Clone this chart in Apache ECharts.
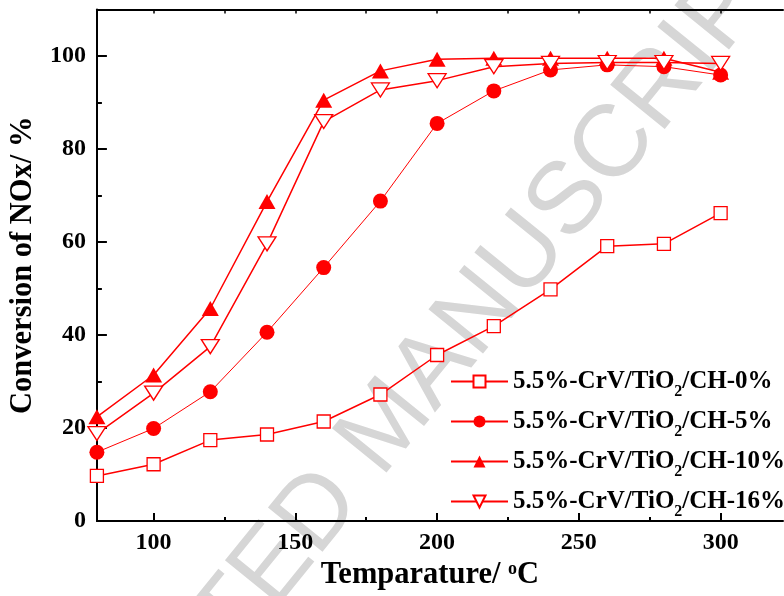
<!DOCTYPE html>
<html>
<head>
<meta charset="utf-8">
<script src="https://cdn.jsdelivr.net/npm/echarts@6/dist/echarts.min.js"></script>
<style>
html,body{margin:0;padding:0;background:#fff;}
#chart{width:784px;height:596px;}
</style>
</head>
<body>
<div id="chart"></div>
<script>
// ---- data ----
var temperatures = [80, 100, 120, 140, 160, 180, 200, 220, 240, 260, 280, 300];
var ch0  = [9.7, 12.2, 17.4, 18.6, 21.4, 27.2, 35.7, 41.9, 49.8, 59.1, 59.6, 66.2];
var ch5  = [14.8, 19.9, 27.8, 40.6, 54.5, 68.8, 85.5, 92.5, 97.0, 98.1, 97.7, 95.9];
var ch10 = [22.4, 31.4, 45.7, 68.7, 90.5, 96.8, 99.3, 99.5, 99.5, 99.5, 99.5, 96.5];
var ch16 = [18.8, 27.5, 37.5, 59.6, 85.9, 92.7, 94.7, 97.7, 98.4, 98.6, 98.6, 98.4];
var seriesNames = ['5.5%-CrV/TiO2/CH-0%', '5.5%-CrV/TiO2/CH-5%', '5.5%-CrV/TiO2/CH-10%', '5.5%-CrV/TiO2/CH-16%'];
var xMajorTicks = [100, 150, 200, 250, 300];
var xMinorTicks = [125, 175, 225, 275];
var xTopTicks = [100, 125, 150, 175, 200, 225, 250, 275, 300];
var yMajorTicks = [0, 20, 40, 60, 80, 100];
var yMinorTicks = [10, 30, 50, 70, 90];

function pairs(ys) { return temperatures.map(function (t, i) { return [t, ys[i]]; }); }

var RED = '#ff0000';
var SERIF = '"Liberation Serif", "Times New Roman", serif';

var chart = echarts.init(document.getElementById('chart'), null, {renderer: 'canvas'});

var baseX = {type: 'value', min: 80, max: 322, splitLine: {show: false}, gridIndex: 0};
var baseY = {type: 'value', min: 0, max: 110, splitLine: {show: false}, gridIndex: 0};

var option = {
  backgroundColor: '#fff',
  animation: false,
  grid: {left: 95.5, right: 1, top: 9.5, bottom: 75, containLabel: false},
  graphic: [{
    type: 'text',
    z: 0,
    x: 388, y: 426,
    rotation: 51 * Math.PI / 180,
    style: {
      text: 'ACCEPTED MANUSCRIPT',
      fontFamily: '"Liberation Sans", Arial, sans-serif',
      fontSize: 102,
      fill: '#d6d6d6',
      align: 'center',
      verticalAlign: 'middle'
    }
  }],
  xAxis: [
    Object.assign({}, baseX, {
      position: 'bottom',
      name: 'Temparature/ {sup|o}C',
      nameLocation: 'middle',
      nameGap: 33,
      nameTextStyle: {
        fontFamily: SERIF, fontWeight: 'bold', fontSize: 30.5, color: '#000',
        padding: [0, 20, 0, 0],
        rich: {sup: {fontFamily: SERIF, fontWeight: 'bold', fontSize: 18, color: '#000', verticalAlign: 'top'}}
      },
      axisLine: {show: true, onZero: false, lineStyle: {color: '#000', width: 2}},
      axisTick: {show: true, inside: true, length: 8, customValues: xMajorTicks, lineStyle: {color: '#000', width: 2}},
      axisLabel: {show: true, customValues: xMajorTicks, margin: 10, fontFamily: SERIF, fontWeight: 'bold', fontSize: 24, color: '#000'}
    }),
    Object.assign({}, baseX, {
      position: 'bottom',
      axisLine: {show: false, onZero: false},
      axisTick: {show: true, inside: true, length: 4, customValues: xMinorTicks, lineStyle: {color: '#000', width: 2}},
      axisLabel: {show: false}
    }),
    Object.assign({}, baseX, {
      position: 'top',
      axisLine: {show: true, onZero: false, lineStyle: {color: '#000', width: 2}},
      axisTick: {show: true, inside: true, length: 4, customValues: xTopTicks, lineStyle: {color: '#000', width: 1.5}},
      axisLabel: {show: false}
    })
  ],
  yAxis: [
    Object.assign({}, baseY, {
      position: 'left',
      name: 'Conversion of NOx/ %',
      nameLocation: 'middle',
      nameGap: 53,
      nameRotate: 90,
      nameTextStyle: {fontFamily: SERIF, fontWeight: 'bold', fontSize: 30.5, color: '#000'},
      axisLine: {show: true, onZero: false, lineStyle: {color: '#000', width: 2}},
      axisTick: {show: true, inside: true, length: 10, customValues: yMajorTicks, lineStyle: {color: '#000', width: 2}},
      axisLabel: {show: true, customValues: yMajorTicks, margin: 11, fontFamily: SERIF, fontWeight: 'bold', fontSize: 24, color: '#000'}
    }),
    Object.assign({}, baseY, {
      position: 'left',
      axisLine: {show: false, onZero: false},
      axisTick: {show: true, inside: true, length: 5, customValues: yMinorTicks, lineStyle: {color: '#000', width: 2}},
      axisLabel: {show: false}
    })
  ],
  legend: {
    orient: 'vertical',
    left: 445,
    top: 364,
    itemWidth: 57,
    itemHeight: 15,
    itemGap: 9,
    data: seriesNames,
    formatter: function (n) { return n.replace('TiO2', 'TiO{sub|2}'); },
    textStyle: {
      fontFamily: SERIF, fontWeight: 'bold', fontSize: 25, color: '#000',
      rich: {sub: {fontFamily: SERIF, fontWeight: 'bold', fontSize: 16, color: '#000', verticalAlign: 'bottom', padding: [0, 0, -6, 0]}}
    }
  },
  series: [
    {
      name: seriesNames[0], type: 'line', data: pairs(ch0),
      symbol: 'rect', symbolSize: 13,
      lineStyle: {color: RED, width: 1.5},
      itemStyle: {color: '#fff', borderColor: RED, borderWidth: 1.3},
      z: 3
    },
    {
      name: seriesNames[1], type: 'line', data: pairs(ch5),
      symbol: 'circle', symbolSize: 15,
      lineStyle: {color: RED, width: 1},
      itemStyle: {color: RED, borderColor: RED, borderWidth: 0},
      z: 3
    },
    {
      name: seriesNames[2], type: 'line', data: pairs(ch10),
      symbol: 'triangle', symbolSize: [17, 15],
      lineStyle: {color: RED, width: 1.5},
      itemStyle: {color: RED, borderColor: RED, borderWidth: 0},
      z: 3
    },
    {
      name: seriesNames[3], type: 'line', data: pairs(ch16),
      symbol: 'triangle', symbolRotate: 180, symbolSize: [18, 14],
      lineStyle: {color: RED, width: 1.5},
      itemStyle: {color: '#fff', borderColor: RED, borderWidth: 1.3},
      z: 4
    }
  ]
};
chart.setOption(option);
</script>
</body>
</html>
